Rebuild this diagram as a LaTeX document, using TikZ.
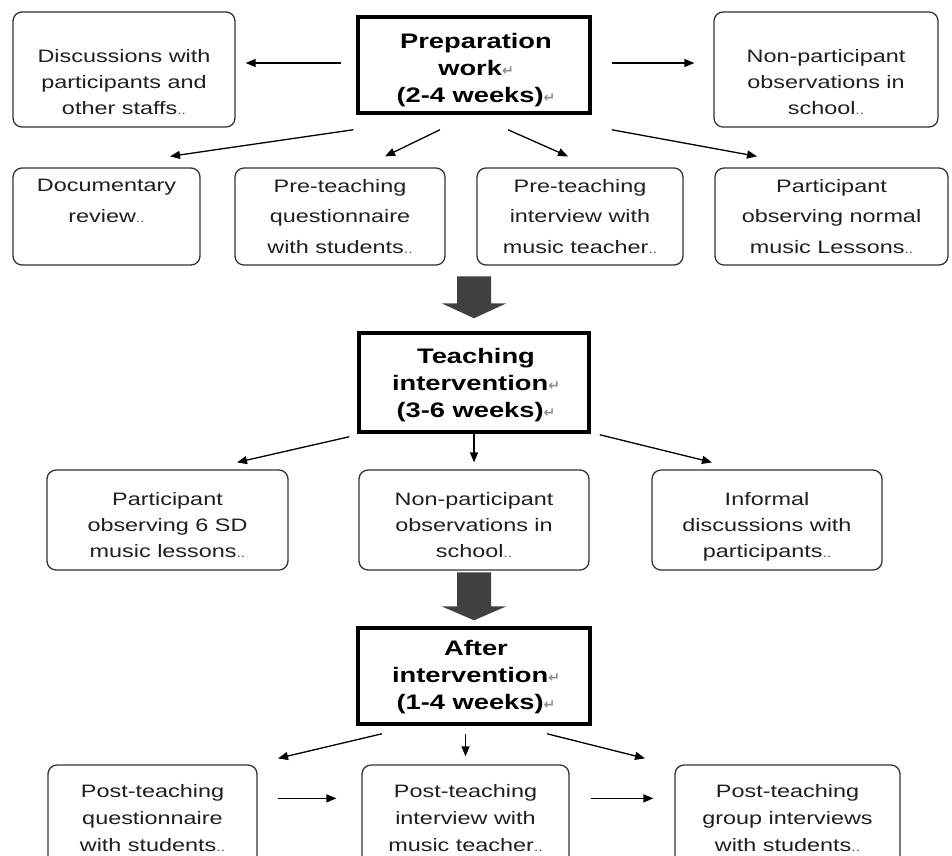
\documentclass[tikz,border=0pt]{standalone}
\usepackage{fontspec}
\setmainfont{Liberation Sans}[FakeStretch=1.3]
\newfontfamily\markfont{DejaVu Sans}
\usetikzlibrary{arrows.meta,calc}
% paragraph and cell end marks
\newcommand\retmark{{\markfont\fontsize{14}{14}\selectfont\color{black!45}↵}}
\newcommand\cellmark{{\fontsize{12}{12}\selectfont\color{black!70}..}}
\begin{document}
\begin{tikzpicture}[x=1pt,y=-1pt,
  sbox/.style={draw=black!80, line width=1.3pt, rounded corners=9pt, inner sep=0pt},
  hbox/.style={draw=black, line width=3.5pt, inner sep=0pt},
  stxt/.style={align=center, inner sep=0pt, anchor=north, text=black!88,
    font=\fontsize{18}{26}\selectfont},
  wtxt/.style={stxt, font=\fontsize{18}{30.5}\selectfont},
  htxt/.style={align=center, inner sep=0pt, anchor=north, text=black,
    font=\bfseries\fontsize{21}{27}\selectfont},
  arr/.style={-{Triangle[length=10pt,width=8pt]}, line width=1.3pt, black},
  blk/.style={fill=black!75},
]
\useasboundingbox (0,0) rectangle (952,855);
\clip (0,0) rectangle (952,855);
\fill[white] (0,0) rectangle (952,855);

% ---- stage 1: preparation work
\node[hbox, minimum width=232pt, minimum height=96pt] (prep) at (474,65) {};
\node[htxt] (prep-t) at (476,33) {Preparation\\work\retmark\\(2-4 weeks)\retmark};

\node[sbox, minimum width=222pt, minimum height=115pt] (disc) at (124,69.5) {};
\node[stxt] (disc-t) at (124,49) {Discussions with\\participants and\\other staffs\cellmark};
\node[sbox, minimum width=224pt, minimum height=115pt] (nonp1) at (826,69.5) {};
\node[stxt] (nonp1-t) at (826,49) {Non-participant\\observations in\\school\cellmark};

\node[sbox, minimum width=187pt, minimum height=97pt] (doc) at (106.5,216.5) {};
\node[wtxt] (doc-t) at (106.5,179) {Documentary\\review\cellmark};
\node[sbox, minimum width=210pt, minimum height=97pt] (preq) at (340,216.5) {};
\node[wtxt] (preq-t) at (340,179) {Pre-teaching\\questionnaire\\with students\cellmark};
\node[sbox, minimum width=206pt, minimum height=97pt] (prei) at (580,216.5) {};
\node[wtxt] (prei-t) at (580,179) {Pre-teaching\\interview with\\music teacher\cellmark};
\node[sbox, minimum width=233pt, minimum height=97pt] (pobs) at (831.5,216.5) {};
\node[wtxt] (pobs-t) at (831.5,179) {Participant\\observing normal\\music Lessons\cellmark};

\draw[arr] ($(prep.west)+(-15,-2)$) -- ($(disc.east)+(10,-6.5)$);
\draw[arr] ($(prep.east)+(20,-2)$) -- ($(nonp1.west)+(-19,-6.5)$);
\draw[arr] ($(prep.south west)+(-3,15)$) -- ($(doc.north)+(63.5,-11)$);
\draw[arr] ($(prep.south)+(-34,15)$) -- ($(preq.north)+(45,-11)$);
\draw[arr] ($(prep.south)+(34,15)$) -- ($(prei.north)+(-12,-11)$);
\draw[arr] ($(prep.south east)+(20,15)$) -- ($(pobs.north)+(-74.5,-11)$);

% ---- stage 2: teaching intervention
\node[hbox, minimum width=230pt, minimum height=99pt] (teach) at (474,382.5) {};
\node[htxt] (teach-t) at (476,348) {Teaching\\intervention\retmark\\(3-6 weeks)\retmark};

\fill[blk] ($(teach.north)+(-17,-55)$) -- ++(34,0) -- ++(0,27) -- ++(15.5,0)
  -- ($(teach.north)+(0,-13)$) -- ++(-32.5,-15) -- ++(15.5,0) -- cycle;

\node[sbox, minimum width=241pt, minimum height=100pt] (pobs6) at (167.5,520) {};
\node[stxt] (pobs6-t) at (167.5,492) {Participant\\observing 6 SD\\music lessons\cellmark};
\node[sbox, minimum width=230pt, minimum height=100pt] (nonp2) at (474,520) {};
\node[stxt] (nonp2-t) at (474,492) {Non-participant\\observations in\\school\cellmark};
\node[sbox, minimum width=230pt, minimum height=100pt] (infd) at (767,520) {};
\node[stxt] (infd-t) at (767,492) {Informal\\discussions with\\participants\cellmark};

\draw[arr] ($(teach.south west)+(-8,3)$) -- ($(pobs6.north)+(69.5,-7)$);
\draw[arr] (teach.south) -- ($(nonp2.north)+(0,-7)$);
\draw[arr] ($(teach.south east)+(9,1)$) -- ($(infd.north)+(-55,-7)$);

% ---- stage 3: after intervention
\node[hbox, minimum width=232pt, minimum height=96pt] (after) at (474,676) {};
\node[htxt] (after-t) at (476,640) {After\\intervention\retmark\\(1-4 weeks)\retmark};

\fill[blk] ($(after.north)+(-17,-54)$) -- ++(34,0) -- ++(0,34) -- ++(15.5,0)
  -- ($(after.north)+(0,-6)$) -- ++(-32.5,-14) -- ++(15.5,0) -- cycle;

\node[sbox, minimum width=209pt, minimum height=110pt] (postq) at (152.5,820) {};
\node[stxt, font=\fontsize{18}{27}\selectfont] (postq-t) at (152.5,784) {Post-teaching\\questionnaire\\with students\cellmark};
\node[sbox, minimum width=207pt, minimum height=110pt] (posti) at (465.5,820) {};
\node[stxt, font=\fontsize{18}{27}\selectfont] (posti-t) at (465.5,784) {Post-teaching\\interview with\\music teacher\cellmark};
\node[sbox, minimum width=225pt, minimum height=110pt] (postg) at (787.5,820) {};
\node[stxt, font=\fontsize{18}{27}\selectfont] (postg-t) at (787.5,784) {Post-teaching\\group interviews\\with students\cellmark};

\draw[arr] ($(after.south)+(-92,8)$) -- ($(postq.north)+(125.5,-6)$);
\draw[arr] ($(after.south -| posti.north)+(0,8)$) -- ($(posti.north)+(0,-8)$);
\draw[arr] ($(after.south)+(73,8)$) -- ($(postg.north)+(-142.5,-6)$);
\draw[arr] ($(postq.north east)+(20,34)$) -- ($(posti.north west)+(-25,34)$);
\draw[arr] ($(posti.north east)+(21,34)$) -- ($(postg.north west)+(-21,34)$);
\end{tikzpicture}
\end{document}
